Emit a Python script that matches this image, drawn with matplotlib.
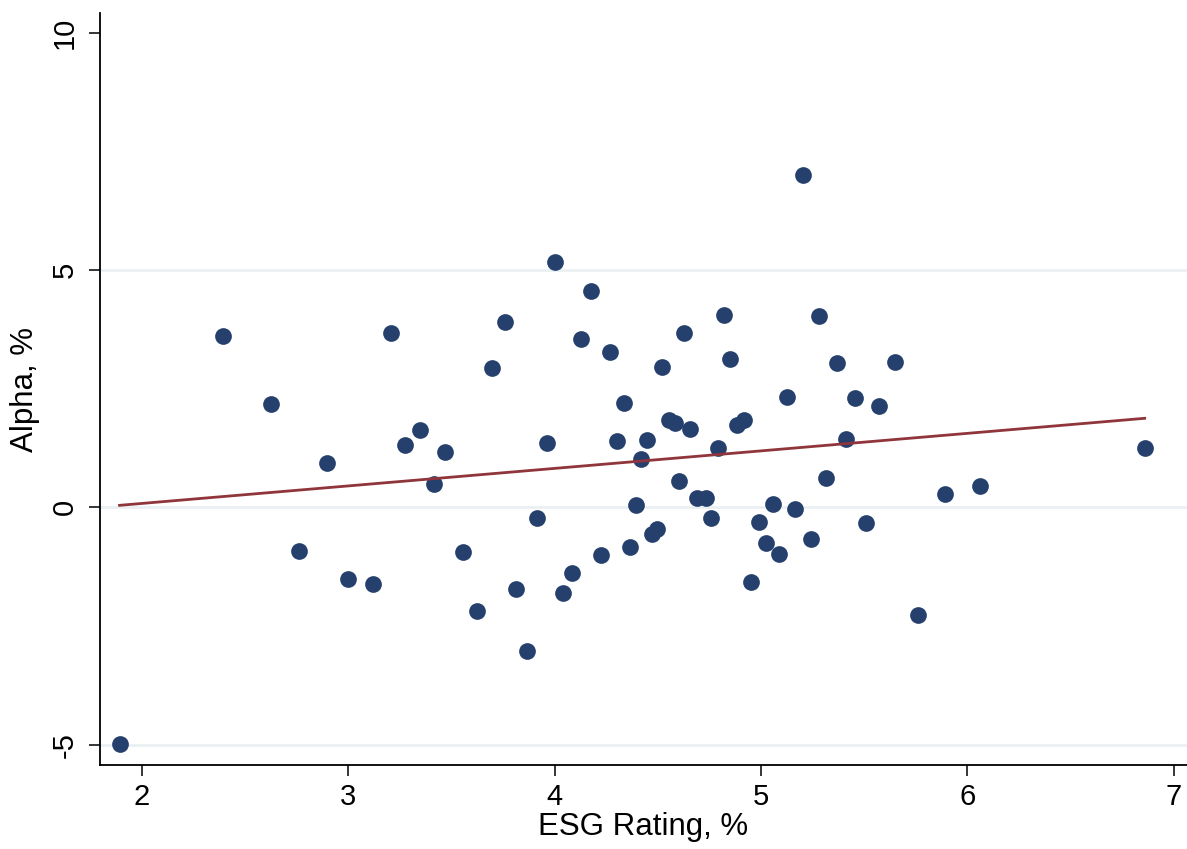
import numpy as np
import matplotlib as mpl
mpl.rcParams['axes.unicode_minus'] = False
mpl.use('Agg')
import matplotlib.pyplot as plt

mpl.rcParams['font.family'] = ['Liberation Sans', 'DejaVu Sans']

# ESG rating (%) and alpha (%) per fund
esg = [1.893, 2.395, 2.626, 2.764, 2.896, 3.000, 3.121, 3.206, 3.277, 3.347,
       3.415, 3.469, 3.558, 3.626, 3.699, 3.762, 3.815, 3.865, 3.914, 3.962,
       4.002, 4.043, 4.083, 4.128, 4.178, 4.227, 4.269, 4.304, 4.337, 4.364,
       4.393, 4.420, 4.448, 4.471, 4.498, 4.522, 4.555, 4.585, 4.605, 4.629,
       4.658, 4.692, 4.733, 4.757, 4.791, 4.820, 4.849, 4.886, 4.920, 4.952,
       4.991, 5.026, 5.057, 5.089, 5.128, 5.164, 5.205, 5.244, 5.280, 5.317,
       5.367, 5.412, 5.456, 5.508, 5.572, 5.650, 5.760, 5.890, 6.061, 6.859]
alpha = [-4.98, 3.62, 2.18, -0.91, 0.93, -1.50, -1.62, 3.68, 1.31, 1.64,
         0.49, 1.17, -0.94, -2.18, 2.93, 3.90, -1.71, -3.02, -0.22, 1.36,
         5.17, -1.81, -1.38, 3.54, 4.57, -1.01, 3.27, 1.39, 2.21, -0.83,
         0.06, 1.02, 1.41, -0.56, -0.46, 2.95, 1.85, 1.78, 0.55, 3.68,
         1.66, 0.20, 0.20, -0.23, 1.26, 4.05, 3.13, 1.74, 1.84, -1.57,
         -0.30, -0.76, 0.07, -0.98, 2.33, -0.04, 7.00, -0.67, 4.04, 0.63,
         3.04, 1.45, 2.30, -0.33, 2.13, 3.06, -2.27, 0.28, 0.46, 1.26]

x = np.array(esg)
y = np.array(alpha)
# linear fit over the observed range
slope, intercept = np.polyfit(x, y, 1)
xfit = np.array([x.min(), x.max()])

fig = plt.figure(figsize=(11.87, 8.49), dpi=100)
ax = fig.add_axes([0.0842, 0.0989, 0.9158, 0.8858])

for g in [-5, 0, 5]:
    ax.axhline(g, color='#eaf0f2', lw=2, zorder=0)

ax.scatter(x, y, s=145, color='#26406e', linewidths=0, zorder=3)
ax.plot(xfit, intercept + slope * xfit, color='#90353b', lw=2, zorder=4)

ax.set_xlim(1.798, 7.064)
ax.set_ylim(-5.43, 10.42)
ax.set_xticks([2, 3, 4, 5, 6, 7])
ax.set_yticks([-5, 0, 5, 10])
ax.spines['top'].set_visible(False)
ax.spines['right'].set_visible(False)
for s in ['left', 'bottom']:
    ax.spines[s].set_linewidth(1.3)
ax.tick_params(length=8, width=1.1, labelsize=21)
ax.tick_params(axis='x', pad=5)
ax.tick_params(axis='y', pad=7)
for lab in ax.get_yticklabels():
    lab.set_rotation(90)
    lab.set_va('center')
ax.set_xlabel('ESG Rating, %', fontsize=22.5, labelpad=1)
ax.set_ylabel('Alpha, %', fontsize=22.5, labelpad=8)

plt.savefig('out.png', dpi=100)
